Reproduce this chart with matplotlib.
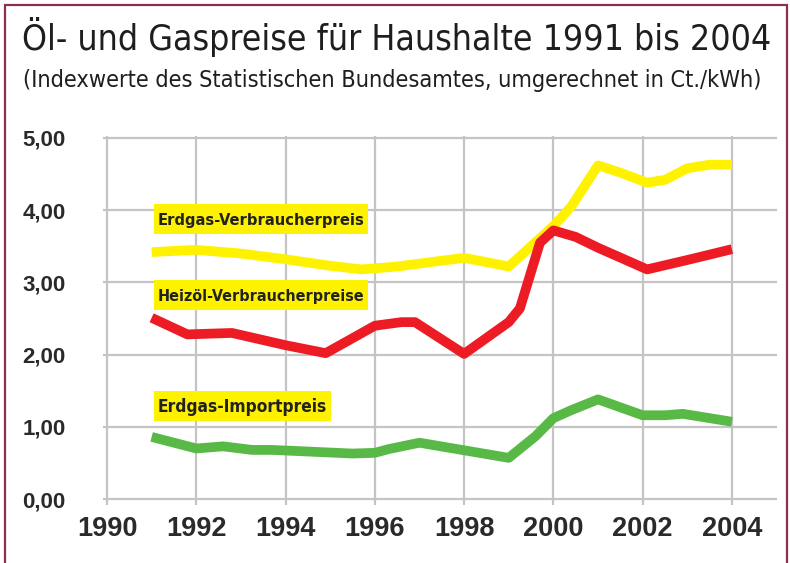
import matplotlib
matplotlib.use("Agg")
import matplotlib.pyplot as plt
from matplotlib.patches import Rectangle

# Erdgas-Verbraucherpreis (Ct./kWh)
gas_years = [1991, 1992, 1993, 1994, 1995, 1995.7, 1996.5, 1998, 1999, 2000, 2000.4, 2001, 2001.5, 2002.1, 2002.5, 2003, 2003.5, 2004]
gas_values = [3.42, 3.45, 3.40, 3.32, 3.23, 3.18, 3.22, 3.34, 3.22, 3.78, 4.05, 4.62, 4.52, 4.38, 4.42, 4.58, 4.63, 4.63]

# Heizöl-Verbraucherpreise
oil_years = [1991, 1991.8, 1992.8, 1994, 1994.9, 1996, 1996.6, 1996.9, 1998, 1999, 1999.25, 1999.7, 2000, 2000.5, 2001, 2002.1, 2003, 2004]
oil_values = [2.51, 2.28, 2.30, 2.13, 2.02, 2.40, 2.45, 2.45, 2.01, 2.45, 2.64, 3.55, 3.72, 3.63, 3.48, 3.18, 3.31, 3.46]

# Erdgas-Importpreis
imp_years = [1991, 1992, 1992.6, 1993.25, 1993.7, 1995.5, 1996, 1996.3, 1997, 1999, 1999.6, 2000, 2000.4, 2001, 2002, 2002.5, 2002.9, 2004]
imp_values = [0.86, 0.70, 0.73, 0.68, 0.68, 0.63, 0.64, 0.69, 0.78, 0.57, 0.87, 1.12, 1.23, 1.38, 1.16, 1.16, 1.18, 1.07]

series_labels = ["Erdgas-Verbraucherpreis", "Heizöl-Verbraucherpreise", "Erdgas-Importpreis"]

x_ticks = [1990, 1992, 1994, 1996, 1998, 2000, 2002, 2004]
y_ticks = [0, 1, 2, 3, 4, 5]
y_tick_labels = ["0,00", "1,00", "2,00", "3,00", "4,00", "5,00"]

title = "Öl- und Gaspreise für Haushalte 1991 bis 2004"
subtitle = "(Indexwerte des Statistischen Bundesamtes, umgerechnet in Ct./kWh)"

text_col = "#2a2a2a"
grid_col = "#c4c4c4"
W, H = 790, 563

# label boxes in pixels: left, top, width, height
label_boxes = [(154, 204, 214, 30), (154, 280, 214, 30), (154, 391, 177, 30)]


def fit_width(txt, target_px, renderer):
    # scale the font so the text spans target_px
    w = txt.get_window_extent(renderer).width
    txt.set_fontsize(txt.get_fontsize() * target_px / w)


fig = plt.figure(figsize=(7.9, 5.63), dpi=100)
fig.patch.set_facecolor("white")
renderer = fig.canvas.get_renderer()

# frame around the graphic (bottom edge lies outside the image)
fig.add_artist(Rectangle((5 / W, -0.05), 782 / W, 1.05 - 5 / H,
                         transform=fig.transFigure, fill=False,
                         edgecolor="#8b3050", linewidth=1.6))

t1 = fig.text(22 / W, 1 - 50 / H, title, family="DejaVu Sans", fontstretch="condensed",
              fontsize=24, color="#1e1e1e", va="baseline", ha="left")
t2 = fig.text(23 / W, 1 - 87 / H, subtitle, family="DejaVu Sans", fontstretch="condensed",
              fontsize=15, color="#1e1e1e", va="baseline", ha="left")
fit_width(t1, 751, renderer)
fit_width(t2, 745, renderer)

ax = fig.add_axes([103 / W, 1 - 501.2 / H, 674 / W, 365.4 / H])
ax.set_xlim(1989.91, 2005.01)
ax.set_ylim(-0.03, 5.03)

for v in y_ticks:
    ax.axhline(v, color=grid_col, linewidth=1.6, zorder=1)
for v in x_ticks:
    ax.axvline(v, color=grid_col, linewidth=1.6, zorder=1)

ax.plot(gas_years, gas_values, color="#fff200", linewidth=7, solid_capstyle="butt",
        solid_joinstyle="round", zorder=3)
ax.plot(oil_years, oil_values, color="#ed1c24", linewidth=7, solid_capstyle="butt",
        solid_joinstyle="round", zorder=4)
ax.plot(imp_years, imp_values, color="#58b947", linewidth=7, solid_capstyle="butt",
        solid_joinstyle="round", zorder=3)

for lab, (bx, by, bw, bh) in zip(series_labels, label_boxes):
    fig.add_artist(Rectangle((bx / W, 1 - (by + bh) / H), bw / W, bh / H,
                             transform=fig.transFigure, facecolor="#fff200",
                             edgecolor="none", zorder=5))
    t = fig.text((bx + 4) / W, 0.5, lab, family="DejaVu Sans", fontstretch="condensed",
                 fontsize=12, fontweight="bold", color="#222222",
                 va="baseline", ha="left", zorder=6)
    fit_width(t, bw - 9, renderer)
    cap = 0.729 * t.get_fontsize() * 100 / 72
    t.set_y(1 - (by + bh / 2 + cap / 2) / H)

ax.set_xticks(x_ticks)
ax.set_xticklabels([str(t) for t in x_ticks])
ax.set_yticks(y_ticks)
ax.set_yticklabels(y_tick_labels)
ax.tick_params(axis="x", length=3, width=1.6, color=grid_col, pad=8,
               labelsize=19.5, labelcolor=text_col)
ax.tick_params(axis="y", length=0, pad=27, labelsize=16, labelcolor=text_col)
for lab in ax.get_xticklabels() + ax.get_yticklabels():
    lab.set_fontweight("bold")
    lab.set_family("Liberation Sans")

for s in ax.spines.values():
    s.set_visible(False)

fig.savefig("out.png", dpi=100)
